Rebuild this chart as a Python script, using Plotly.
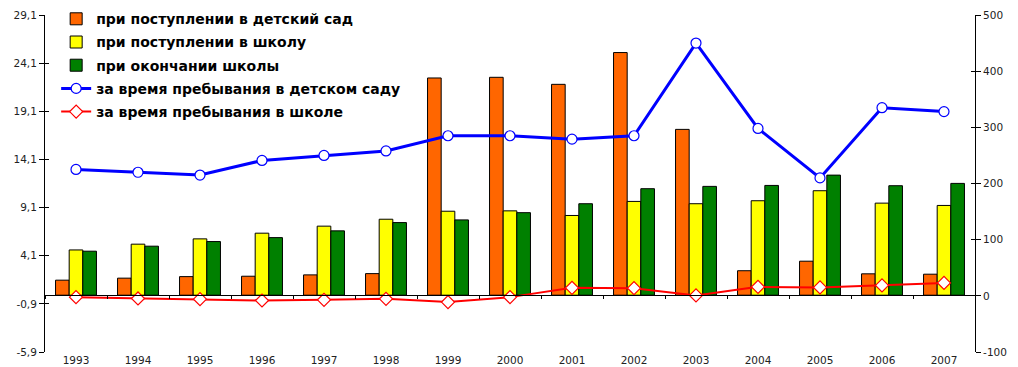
import plotly.graph_objects as go

# Years on the category axis
years = ["1993", "1994", "1995", "1996", "1997", "1998", "1999", "2000",
         "2001", "2002", "2003", "2004", "2005", "2006", "2007"]

# Bar series (left axis)
kindergarten_entry = [1.56, 1.77, 1.93, 1.97, 2.11, 2.24, 22.56, 22.63,
                      21.90, 25.20, 17.22, 2.54, 3.53, 2.22, 2.18]
school_entry = [4.70, 5.30, 5.85, 6.44, 7.17, 7.89, 8.72, 8.76,
                8.28, 9.74, 9.50, 9.81, 10.85, 9.56, 9.32]
school_graduation = [4.57, 5.09, 5.57, 5.98, 6.68, 7.54, 7.82, 8.57,
                     9.50, 11.06, 11.30, 11.40, 12.47, 11.37, 11.61]

# Line series (right axis)
during_kindergarten = [225, 220, 215, 241, 250, 258, 285, 285,
                       279, 285, 450, 298, 210, 335, 328]
during_school = [-2.3, -4.7, -5.9, -8.3, -7.1, -5.3, -11.2, -2.3,
                 14.3, 13.7, 0.7, 16, 15, 18.5, 23]

# Axis tick labels
left_ticks = [-5.9, -0.9, 4.1, 9.1, 14.1, 19.1, 24.1, 29.1]
left_ticktext = ["-5,9", "-0,9", "4,1", "9,1", "14,1", "19,1", "24,1", "29,1"]
right_ticks = [-100, 0, 100, 200, 300, 400, 500]
right_ticktext = ["-100", "0", "100", "200", "300", "400", "500"]

bar_line = dict(color="black", width=1)
fig = go.Figure()

fig.add_trace(go.Bar(x=years, y=kindergarten_entry, name="при поступлении в детский сад",
                     marker=dict(color="#FF6600", line=bar_line), legendgroup="a"))
fig.add_trace(go.Bar(x=years, y=school_entry, name="при поступлении в школу",
                     marker=dict(color="#FFFF00", line=bar_line), legendgroup="b"))
fig.add_trace(go.Bar(x=years, y=school_graduation, name="при окончании школы",
                     marker=dict(color="#008000", line=bar_line), legendgroup="c"))
fig.add_trace(go.Scatter(x=years, y=during_kindergarten, name="за время пребывания в детском саду",
                         yaxis="y2", mode="lines+markers", legendgroup="d",
                         line=dict(color="#0000FF", width=3),
                         marker=dict(symbol="circle", size=10, color="white",
                                     line=dict(color="#0000FF", width=1.2))))
fig.add_trace(go.Scatter(x=years, y=during_school, name="за время пребывания в школе",
                         yaxis="y2", mode="lines+markers", legendgroup="e",
                         line=dict(color="#FF0000", width=2),
                         marker=dict(symbol="diamond", size=10, color="white",
                                     line=dict(color="#FF0000", width=1.2))))

# Empty traces that carry the helper axes: the category line through zero
# and the inner halves of the crossing tick marks on both value axes
for xa, ya in (("x2", "y"), ("x", "y3"), ("x", "y4")):
    fig.add_trace(go.Scatter(x=[], y=[], xaxis=xa, yaxis=ya, showlegend=False,
                             hoverinfo="skip"))

tick_font = dict(family="DejaVu Sans", size=10.5, color="#222222")

fig.update_layout(
    width=1018, height=367,
    margin=dict(l=45, r=43, t=15, b=15, autoexpand=False),
    plot_bgcolor="white", paper_bgcolor="white",
    barmode="group", bargap=0.34, bargroupgap=0.0,
    showlegend=True,
    legend=dict(x=0.012, y=1.035, xanchor="left", yanchor="top",
                bgcolor="rgba(0,0,0,0)", traceorder="grouped", tracegroupgap=2,
                font=dict(family="DejaVu Sans", size=14, color="black",
                          weight="bold"),
                itemwidth=30),
    xaxis=dict(type="category", range=[-0.5, 14.5], showline=False, ticks="",
               showgrid=False, tickfont=tick_font, automargin=False),
    xaxis2=dict(overlaying="x", anchor="free", position=(0 + 5.9) / 35.0,
                range=[-0.5, 14.5], tick0=-0.5, dtick=1, showline=True,
                linecolor="black", linewidth=1, ticks="outside", ticklen=3,
                tickcolor="black", showticklabels=False, showgrid=False,
                zeroline=False, automargin=False),
    yaxis=dict(range=[-5.9, 29.1], tickvals=left_ticks, ticktext=left_ticktext,
               showline=True, linecolor="black", linewidth=1, ticks="outside",
               ticklen=5, tickcolor="black", showgrid=False, zeroline=False,
               tickfont=tick_font, automargin=False),
    yaxis2=dict(range=[-100, 500], tickvals=right_ticks, ticktext=right_ticktext,
                overlaying="y", side="right", showline=True, linecolor="black",
                linewidth=1, ticks="outside", ticklen=5, tickcolor="black",
                showgrid=False, zeroline=False, tickfont=tick_font, automargin=False),
    yaxis3=dict(range=[-5.9, 29.1], tickvals=left_ticks, overlaying="y",
                side="left", ticks="inside", ticklen=4, tickcolor="black",
                showticklabels=False, showline=False, showgrid=False,
                zeroline=False, automargin=False),
    yaxis4=dict(range=[-100, 500], tickvals=right_ticks, overlaying="y",
                side="right", ticks="inside", ticklen=4, tickcolor="black",
                showticklabels=False, showline=False, showgrid=False,
                zeroline=False, automargin=False),
)

fig.write_html("out.html")
